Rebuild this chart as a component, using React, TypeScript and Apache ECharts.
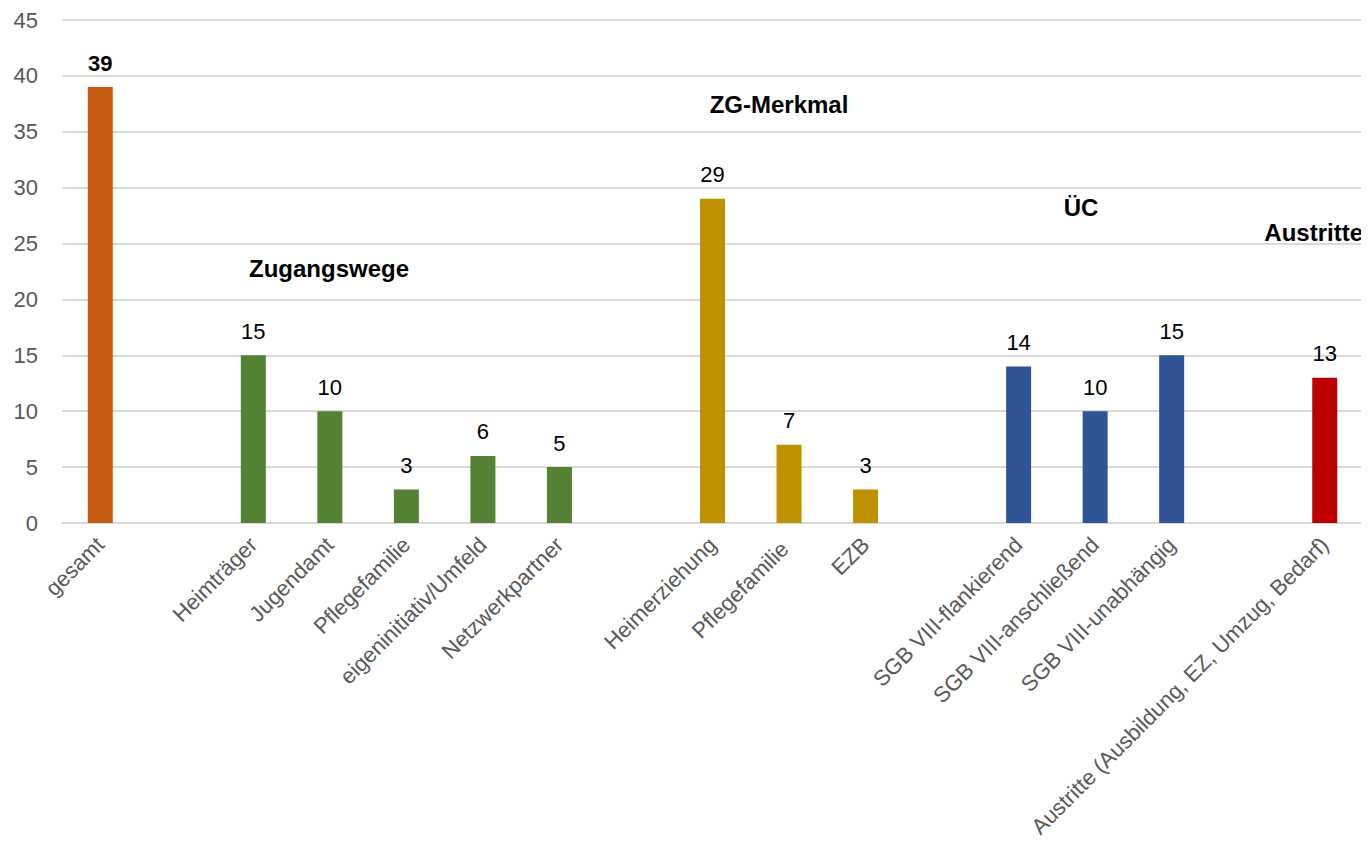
import React, { useEffect, useRef } from "react";
import * as echarts from "echarts";

const categories = [
  "gesamt", "",
  "Heimträger", "Jugendamt", "Pflegefamilie", "eigeninitiativ/Umfeld", "Netzwerkpartner", " ",
  "Heimerziehung", "Pflegefamilie ", "EZB", "  ",
  "SGB VIII-flankierend", "SGB VIII-anschließend", "SGB VIII-unabhängig", "   ",
  "Austritte (Ausbildung, EZ, Umzug, Bedarf)",
];
const values: (number | null)[] = [39, null, 15, 10, 3, 6, 5, null, 29, 7, 3, null, 14, 10, 15, null, 13];
const colors = [
  "#C55A11", "", "#548235", "#548235", "#548235", "#548235", "#548235", "",
  "#BF9000", "#BF9000", "#BF9000", "", "#2F5597", "#2F5597", "#2F5597", "", "#C00000",
];
const yTicks = { min: 0, max: 45, interval: 5 };
const groupTitles = [
  { text: "Zugangswege", x: 329, y: 268, align: "center" },
  { text: "ZG-Merkmal", x: 779, y: 104, align: "center" },
  { text: "ÜC", x: 1081, y: 207, align: "center" },
  { text: "Austritte", x: 1363, y: 232, align: "right" },
];

const FONT = "'Liberation Sans', Arial, sans-serif";

export default function App() {
  const ref = useRef<HTMLDivElement>(null);
  useEffect(() => {
    if (!ref.current) return;
    const chart = echarts.init(ref.current, null, { renderer: "svg" });
    chart.setOption({
      animation: false,
      grid: { left: 62, right: 6, top: 20, bottom: 323, containLabel: false },
      xAxis: {
        type: "category",
        data: categories,
        axisLine: { lineStyle: { color: "#d9d9d9", width: 2 } },
        axisTick: { show: false },
        axisLabel: {
          interval: 0,
          rotate: 45,
          color: "#595959",
          fontSize: 22,
          fontFamily: FONT,
          margin: 18,
        },
      },
      yAxis: {
        type: "value",
        min: yTicks.min,
        max: yTicks.max,
        interval: yTicks.interval,
        axisLine: { show: false },
        axisTick: { show: false },
        axisLabel: { color: "#595959", fontSize: 22, fontFamily: FONT, margin: 24 },
        splitLine: { lineStyle: { color: "#d9d9d9", width: 2 } },
      },
      series: [
        {
          type: "bar",
          barWidth: 25,
          data: values.map((v, i) => ({
            value: v,
            itemStyle: { color: colors[i] || "#000" },
            label: i === 0 ? { fontWeight: "bold" } : undefined,
          })),
          label: {
            show: true,
            position: "top",
            distance: 13,
            color: "#000",
            fontSize: 22,
            fontFamily: FONT,
          },
        },
      ],
      graphic: groupTitles.map((g) => ({
        type: "text",
        x: g.x,
        y: g.y,
        style: {
          text: g.text,
          fill: "#000",
          font: `bold 24px ${FONT}`,
          textAlign: g.align,
          textVerticalAlign: "middle",
        },
      })),
    });
    return () => chart.dispose();
  }, []);
  return <div ref={ref} style={{ width: 1369, height: 846, margin: -8 }} />;
}
